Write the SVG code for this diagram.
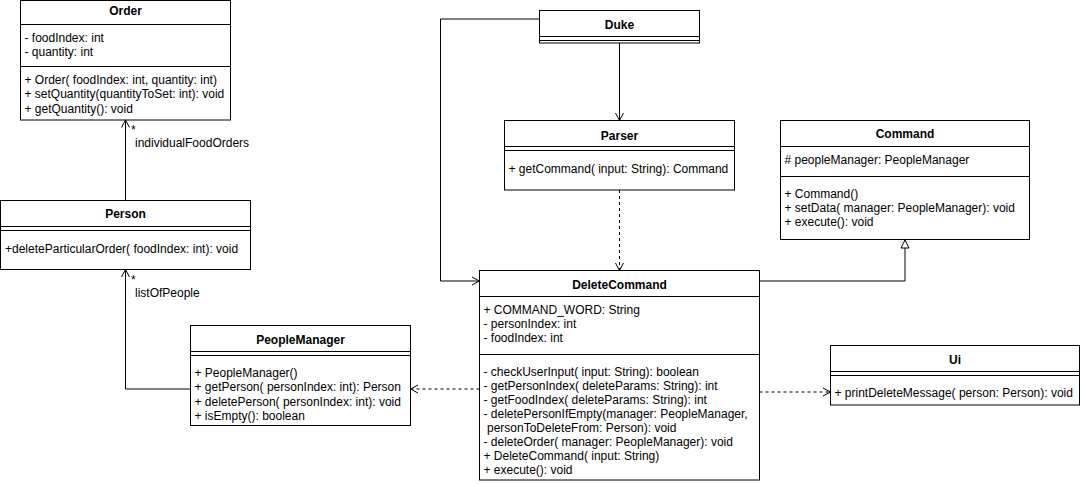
<svg xmlns="http://www.w3.org/2000/svg" width="1081" height="484" viewBox="0 0 1081 484">
<style>
text{font-family:"Liberation Sans",Arial,Helvetica,sans-serif;font-size:12px;fill:#000}
.t{font-weight:bold;text-anchor:middle}
.box{fill:#fff;stroke:#000;stroke-width:1}
.ln{stroke:#000;stroke-width:1;fill:none}
.c{stroke:#000;stroke-width:1;fill:none}
.d{stroke-dasharray:3 3}
</style>
<defs>
<marker id="open" viewBox="0 0 10 10" refX="10" refY="5" markerWidth="10" markerHeight="10" markerUnits="userSpaceOnUse" orient="auto">
<path d="M2.5,1 L10,5 L2.5,9" fill="none" stroke="#000" stroke-width="1"/>
</marker>
<marker id="tri" viewBox="0 0 10 10" refX="9.5" refY="5" markerWidth="10" markerHeight="10" markerUnits="userSpaceOnUse" orient="auto">
<path d="M1.5,1 L9.5,5 L1.5,9 Z" fill="#fff" stroke="#000" stroke-width="1"/>
</marker>
</defs>
<rect width="1081" height="484" fill="#fff"/>

<g id="connectors">
<path class="c" d="M539.5,19 H440.5 V281 H479.5" marker-end="url(#open)"/>
<path class="c" d="M619.5,43 V120.5" marker-end="url(#open)"/>
<path class="c d" d="M619.5,190 V270.5" marker-end="url(#open)"/>
<path class="c" d="M759.5,281 H905 V240" marker-end="url(#tri)"/>
<path class="c d" d="M479.5,389 H410.5" marker-end="url(#open)"/>
<path class="c d" d="M759.5,392 H830.5" marker-end="url(#open)"/>
<path class="c" d="M190.5,389 H125.5 V269.5" marker-end="url(#open)"/>
<path class="c" d="M125.5,200.5 V120" marker-end="url(#open)"/>
<text x="131" y="134">*</text>
<text x="135" y="147">individualFoodOrders</text>
<text x="131" y="283.5">*</text>
<text x="135" y="296.5">listOfPeople</text>
</g>

<g id="Order">
<rect class="box" x="20.5" y="0.5" width="210" height="119.5"/>
<text class="t" x="125.5" y="15">Order</text>
<line class="ln" x1="20.5" y1="24.5" x2="230.5" y2="24.5"/>
<text x="24.5" y="42">- foodIndex: int</text>
<text x="24.5" y="56.4">- quantity: int</text>
<line class="ln" x1="20.5" y1="66.5" x2="230.5" y2="66.5"/>
<text x="24.5" y="84">+ Order( foodIndex: int, quantity: int)</text>
<text x="24.5" y="98.4">+ setQuantity(quantityToSet: int): void</text>
<text x="24.5" y="112.8">+ getQuantity(): void</text>
</g>

<g id="Person">
<rect class="box" x="0.5" y="200.5" width="250" height="69"/>
<text class="t" x="125.5" y="217.5">Person</text>
<line class="ln" x1="0.5" y1="226.5" x2="250.5" y2="226.5"/>
<line class="ln" x1="0.5" y1="230.5" x2="250.5" y2="230.5"/>
<text x="5" y="252.5">+deleteParticularOrder( foodIndex: int): void</text>
</g>

<g id="PeopleManager">
<rect class="box" x="190.5" y="325.5" width="220" height="100"/>
<text class="t" x="300.5" y="343.5">PeopleManager</text>
<line class="ln" x1="190.5" y1="351.5" x2="410.5" y2="351.5"/>
<line class="ln" x1="190.5" y1="355.5" x2="410.5" y2="355.5"/>
<text x="194.5" y="377">+ PeopleManager()</text>
<text x="194.5" y="391.2">+ getPerson( personIndex: int): Person</text>
<text x="194.5" y="405.5">+ deletePerson( personIndex: int): void</text>
<text x="194.5" y="419.8">+ isEmpty(): boolean</text>
</g>

<g id="Duke">
<rect class="box" x="539.5" y="10.5" width="160" height="32.5"/>
<text class="t" x="619.5" y="28.5">Duke</text>
<line class="ln" x1="539.5" y1="36.5" x2="699.5" y2="36.5"/>
<line class="ln" x1="539.5" y1="40.5" x2="699.5" y2="40.5"/>
</g>

<g id="Parser">
<rect class="box" x="504.5" y="120.5" width="230" height="69.5"/>
<text class="t" x="619.5" y="140">Parser</text>
<line class="ln" x1="504.5" y1="146.5" x2="734.5" y2="146.5"/>
<line class="ln" x1="504.5" y1="150.5" x2="734.5" y2="150.5"/>
<text x="508.5" y="173">+ getCommand( input: String): Command</text>
</g>

<g id="Command">
<rect class="box" x="780.5" y="120.5" width="249" height="119"/>
<text class="t" x="905" y="138">Command</text>
<line class="ln" x1="780.5" y1="146.5" x2="1029.5" y2="146.5"/>
<text x="784.5" y="164"># peopleManager: PeopleManager</text>
<line class="ln" x1="780.5" y1="176.5" x2="1029.5" y2="176.5"/>
<text x="784.5" y="197.5">+ Command()</text>
<text x="784.5" y="211.5">+ setData( manager: PeopleManager): void</text>
<text x="784.5" y="225.5">+ execute(): void</text>
</g>

<g id="DeleteCommand">
<rect class="box" x="479.5" y="270.5" width="280" height="209.5"/>
<text class="t" x="619.5" y="288.5">DeleteCommand</text>
<line class="ln" x1="479.5" y1="296.5" x2="759.5" y2="296.5"/>
<text x="483.5" y="314">+ COMMAND_WORD: String</text>
<text x="483.5" y="328">- personIndex: int</text>
<text x="483.5" y="342">- foodIndex: int</text>
<line class="ln" x1="479.5" y1="354.5" x2="759.5" y2="354.5"/>
<text x="483.5" y="375.7">- checkUserInput( input: String): boolean</text>
<text x="483.5" y="390">- getPersonIndex( deleteParams: String): int</text>
<text x="483.5" y="404">- getFoodIndex( deleteParams: String): int</text>
<text x="483.5" y="418">- deletePersonIfEmpty(manager: PeopleManager,</text>
<text x="487" y="431.7">personToDeleteFrom: Person): void</text>
<text x="483.5" y="445.8">- deleteOrder( manager: PeopleManager): void</text>
<text x="483.5" y="460">+ DeleteCommand( input: String)</text>
<text x="483.5" y="474">+ execute(): void</text>
</g>

<g id="Ui">
<rect class="box" x="830.5" y="345.5" width="249" height="59.5"/>
<text class="t" x="955" y="364">Ui</text>
<line class="ln" x1="830.5" y1="371.5" x2="1079.5" y2="371.5"/>
<line class="ln" x1="830.5" y1="375.5" x2="1079.5" y2="375.5"/>
<text x="834.5" y="397">+ printDeleteMessage( person: Person): void</text>
</g>
</svg>
